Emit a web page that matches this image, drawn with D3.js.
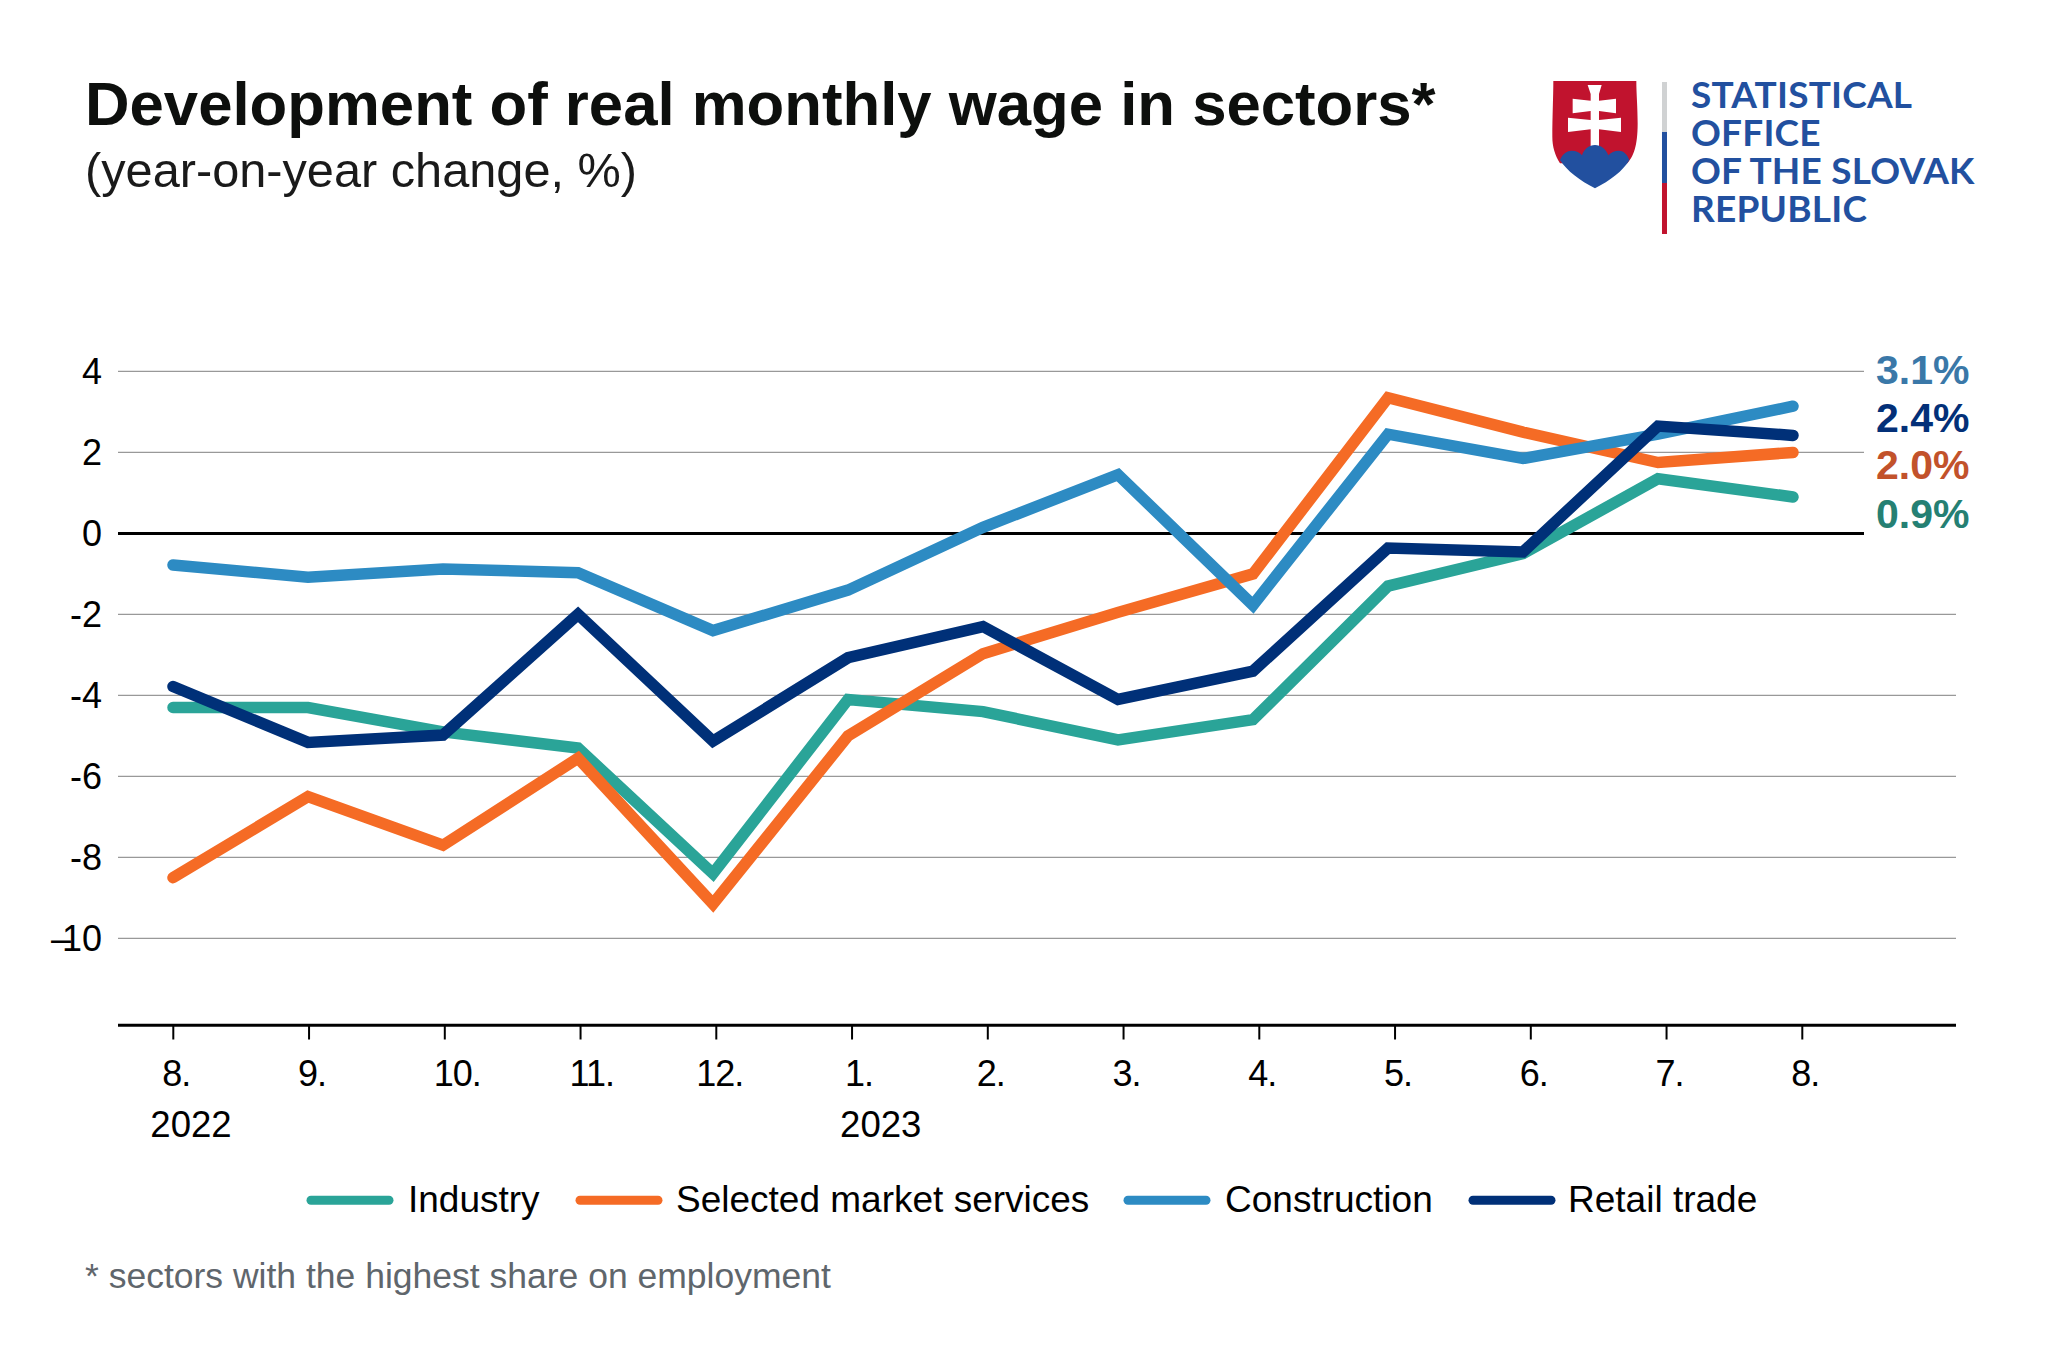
<!DOCTYPE html>
<html><head><meta charset="utf-8">
<script src="https://cdn.jsdelivr.net/npm/d3@7"></script>
<style>html,body{margin:0;background:#fff}svg{display:block}text{font-family:"Liberation Sans",Arial,sans-serif}</style>
</head><body><svg id="c" width="2048" height="1366"></svg>
<script>
const months = ["8.","9.","10.","11.","12.","1.","2.","3.","4.","5.","6.","7.","8."];
const monthDx = [-11,-11,-11,-11,-20,-7,-11,-11,-11,-11,-11,-11,-11];
const yearLabels = [{i:0,t:"2022",dx:-23},{i:5,t:"2023",dx:-12}];
const yTicks = [4,2,0,-2,-4,-6,-8,-10];
const yTickLabels = ["4","2","0","-2","-4","-6","-8","\u201310"];
const industry = [-4.3,-4.3,-4.9,-5.3,-8.4,-4.1,-4.4,-5.1,-4.6,-1.3,-0.5,1.35,0.9];
const services = [-8.5,-6.5,-7.7,-5.55,-9.15,-5.0,-2.97,-1.95,-1.0,3.35,2.5,1.75,2.0];
const construction = [-0.78,-1.08,-0.88,-0.97,-2.4,-1.4,0.15,1.45,-1.77,2.45,1.85,2.45,3.14];
const retail = [-3.78,-5.16,-4.98,-2.0,-5.13,-3.07,-2.3,-4.1,-3.4,-0.36,-0.46,2.65,2.42];
const seriesNames = ["Industry","Selected market services","Construction","Retail trade"];
const seriesColors = ["#2aa498","#f56b25","#2d8bc3","#003078"];
const endLabels = ["3.1%","2.4%","2.0%","0.9%"];
const endColors = ["#3a78a8","#033078","#c2522b","#258073"];
const endBaselines = [384,431.7,479,528];
const logoLines = ["STATISTICAL","OFFICE","OF THE SLOVAK","REPUBLIC"];
const legendX = [[307,393,408],[576,662,676],[1124,1210,1225],[1469,1555,1568]];

const svg = d3.select("#c");
const xTick = d3.scalePoint().domain(d3.range(months.length)).range([173.3,1802.3]);
const x = d3.scalePoint().domain(d3.range(months.length)).range([173,1793]);
const y = d3.scaleLinear().domain([0,-10]).range([533.4,938.4]);
const FS = 36;

// Title
svg.append("text").attr("x",85).attr("y",125).attr("font-size",61.7).attr("font-weight",700).attr("fill","#0d0f0d").text("Development of real monthly wage in sectors*");
svg.append("text").attr("x",85).attr("y",187).attr("font-size",48.7).attr("fill","#1a1a1a").text("(year-on-year change, %)");

// Grid
svg.append("g").selectAll("line").data(yTicks.filter(d=>d!==0)).join("line")
  .attr("x1",118).attr("x2",1956).attr("y1",d=>y(d)).attr("y2",d=>y(d)).attr("stroke","#999").attr("stroke-width",1.2);
svg.append("rect").attr("x",1864).attr("y",340).attr("width",120).attr("height",220).attr("fill","#fff");
svg.append("line").attr("x1",118).attr("x2",1864).attr("y1",y(0)).attr("y2",y(0)).attr("stroke","#000").attr("stroke-width",3);

// y labels
svg.append("g").selectAll("text").data(yTicks).join("text")
  .attr("x",102).attr("y",d=>y(d)+12.5).attr("text-anchor","end").attr("font-size",FS).attr("fill","#000")
  .attr("dx",(d,i)=>yTickLabels[i].length===3?"0 -9 0":null)
  .text((d,i)=>yTickLabels[i]);

// x axis
svg.append("line").attr("x1",118).attr("x2",1956).attr("y1",1025.3).attr("y2",1025.3).attr("stroke","#000").attr("stroke-width",3);
svg.append("g").selectAll("line").data(months).join("line")
  .attr("x1",(d,i)=>xTick(i)).attr("x2",(d,i)=>xTick(i)).attr("y1",1025).attr("y2",1039.5).attr("stroke","#000").attr("stroke-width",2);
svg.append("g").selectAll("text").data(months).join("text")
  .attr("x",(d,i)=>xTick(i)+monthDx[i]).attr("y",1086).attr("font-size",FS).attr("letter-spacing",-1).attr("fill","#000").text(d=>d);
svg.append("g").selectAll("text").data(yearLabels).join("text")
  .attr("x",d=>xTick(d.i)+d.dx).attr("y",1137).attr("font-size",36.6).attr("fill","#000").text(d=>d.t);

// Lines
const line = d3.line().x((d,i)=>x(i)).y(d=>y(d));
[industry,services,construction,retail].forEach((s,k)=>{
  svg.append("path").attr("d",line(s)).attr("fill","none").attr("stroke",seriesColors[k])
    .attr("stroke-width",11.5).attr("stroke-linecap","round").attr("stroke-linejoin","miter");
});

// End labels
svg.append("g").selectAll("text").data(endLabels).join("text")
  .attr("x",1876).attr("y",(d,i)=>endBaselines[i]).attr("font-size",41).attr("font-weight",700)
  .attr("fill",(d,i)=>endColors[i]).text(d=>d);

// Legend
seriesNames.forEach((n,k)=>{
  svg.append("line").attr("x1",legendX[k][0]+4).attr("x2",legendX[k][1]-4).attr("y1",1200.3).attr("y2",1200.3)
    .attr("stroke",seriesColors[k]).attr("stroke-width",9).attr("stroke-linecap","round");
  svg.append("text").attr("x",legendX[k][2]).attr("y",1211.7).attr("font-size",37).attr("fill","#000").text(n);
});

// Footnote
svg.append("text").attr("x",85).attr("y",1288).attr("font-size",35.5).attr("fill","#5f666c").text("* sectors with the highest share on employment");

// Logo
const logo = svg.append("g").attr("transform","translate(1540,60) scale(0.3333)");
logo.append("path").attr("fill","#c1132e").attr("d","M40 63H289C289 100 293 140 293 190C293 260 280 290 262 310L60 310C45 285 37 260 37 230C37 170 40 110 40 63Z");
logo.append("path").attr("fill","#fff").attr("d","M143 75L185 75L177 102L177 122L228 116L228 160L177 153L177 180L243 173L243 216L177 208L177 265L152 265L152 208L84 216L84 173L152 180L152 153L98 160L98 116L152 122L152 102Z");
logo.append("path").attr("fill","#22509f").attr("d","M60 300C68 280 82 272 95 272C108 272 120 278 126 286C132 266 148 255 165 255C182 255 198 266 205 286C212 278 224 272 236 272C250 272 262 282 268 300C250 332 210 362 165 385C120 362 80 332 60 300Z");
logo.append("rect").attr("x",366).attr("y",66).attr("width",15).attr("height",150).attr("fill","#d0d2d3");
logo.append("rect").attr("x",366).attr("y",216).attr("width",15).attr("height",153).attr("fill","#22509f");
logo.append("rect").attr("x",366).attr("y",369).attr("width",15).attr("height",153).attr("fill","#c1132e");
const logoBase=[107.7,145.7,184,221.7];
svg.append("g").selectAll("text").data(logoLines).join("text")
  .attr("x",1691).attr("y",(d,i)=>logoBase[i]).attr("font-size",37).attr("font-weight",700)
  .style("font-family","Lato").attr("letter-spacing",0.2).attr("fill","#22509f").text(d=>d);
</script></body></html>
